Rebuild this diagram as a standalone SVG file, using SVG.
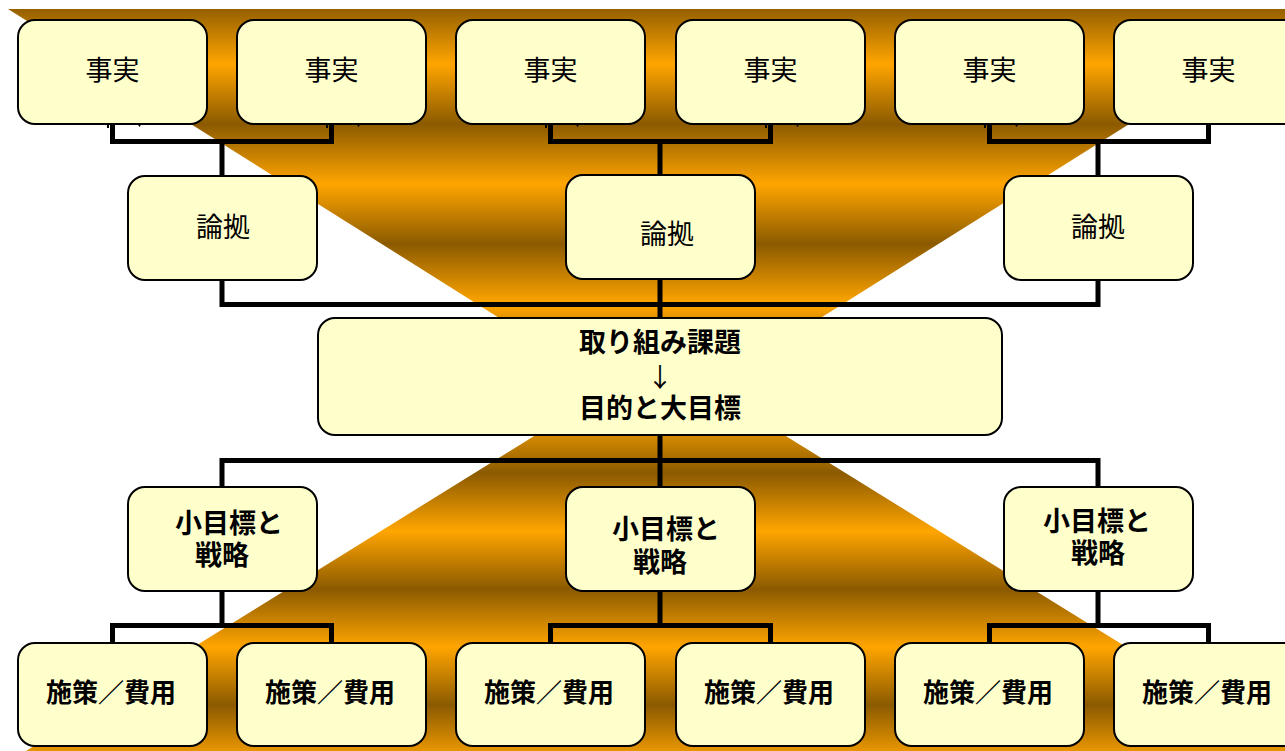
<svg xmlns="http://www.w3.org/2000/svg" width="1285" height="751" viewBox="0 0 1285 751">
  <defs>
    <linearGradient id="gTop" gradientUnits="userSpaceOnUse" x1="0" y1="4" x2="0" y2="64" spreadMethod="reflect">
      <stop offset="0" stop-color="#8B5A00"/>
      <stop offset="1" stop-color="#FFA500"/>
    </linearGradient>
    <linearGradient id="gBot" gradientUnits="userSpaceOnUse" x1="0" y1="473" x2="0" y2="531" spreadMethod="reflect">
      <stop offset="0" stop-color="#8B5A00"/>
      <stop offset="1" stop-color="#FFA500"/>
    </linearGradient>
  </defs>
  <style>
    .box { fill: #FFFFCC; stroke: #000; stroke-width: 2; }
    .t { font-family: "Noto Sans CJK JP", "Noto Sans CJK SC", sans-serif; fill: #000; text-anchor: middle; dominant-baseline: central; }
    .reg { font-size: 27px; font-weight: normal; }
    .bold { font-size: 27px; font-weight: bold; }
    .arrow { font-size: 26px; font-weight: normal; }
    .sm { font-size: 26px; font-weight: bold; }
    .conn { fill: none; stroke: #000; stroke-width: 5; stroke-linejoin: miter; stroke-linecap: butt; }
    .tick { fill: #000; }
  </style>

  <rect width="1285" height="751" fill="#FFFFFF"/>

  <g id="background">
    <polygon points="8,9 1312,9 660,419" fill="url(#gTop)"/>
    <polygon points="660,358 1294,751 26,751" fill="url(#gBot)"/>
  </g>

  <g id="connectors">
    <polyline class="conn" points="112.5,124 112.5,141.5 331.5,141.5 331.5,124"/>
    <line class="conn" x1="222" y1="141.5" x2="222" y2="176"/>
    <polyline class="conn" points="550.5,124 550.5,141.5 770.5,141.5 770.5,124"/>
    <line class="conn" x1="660" y1="141.5" x2="660" y2="175"/>
    <polyline class="conn" points="989.5,124 989.5,141.5 1208.5,141.5 1208.5,124"/>
    <line class="conn" x1="1098" y1="141.5" x2="1098" y2="176"/>
    <polyline class="conn" points="222,280 222,304.5 1098,304.5 1098,280"/>
    <line class="conn" x1="660" y1="279" x2="660" y2="318"/>
    <line class="conn" x1="660" y1="435" x2="660" y2="487"/>
    <polyline class="conn" points="222,487 222,460.5 1098,460.5 1098,487"/>
    <line class="conn" x1="222" y1="591" x2="222" y2="625.5"/>
    <polyline class="conn" points="112.5,643 112.5,625.5 331.5,625.5 331.5,643"/>
    <line class="conn" x1="660" y1="591" x2="660" y2="625.5"/>
    <polyline class="conn" points="550.5,643 550.5,625.5 770.5,625.5 770.5,643"/>
    <line class="conn" x1="1098" y1="591" x2="1098" y2="625.5"/>
    <polyline class="conn" points="989.5,643 989.5,625.5 1208.5,625.5 1208.5,643"/>
    <g class="tick">
      <rect x="107" y="124" width="2" height="4"/><path d="M137.5,124 h4 l-2,3 z"/>
      <rect x="326" y="124" width="2" height="4"/><path d="M356.5,124 h4 l-2,3 z"/>
      <rect x="545" y="124" width="2" height="4"/><path d="M575.5,124 h4 l-2,3 z"/>
      <rect x="765" y="124" width="2" height="4"/><path d="M795.5,124 h4 l-2,3 z"/>
      <rect x="984" y="124" width="2" height="4"/><path d="M1014.5,124 h4 l-2,3 z"/>
    </g>
  </g>

  <g id="fact1"><rect class="box" x="18" y="20" width="189" height="104" rx="17"/><text class="t reg" x="112.5" y="68">事実</text></g>
  <g id="fact2"><rect class="box" x="237" y="20" width="189" height="104" rx="17"/><text class="t reg" x="331.5" y="68">事実</text></g>
  <g id="fact3"><rect class="box" x="456" y="20" width="189" height="104" rx="17"/><text class="t reg" x="550.5" y="68">事実</text></g>
  <g id="fact4"><rect class="box" x="676" y="20" width="189" height="104" rx="17"/><text class="t reg" x="770.5" y="68">事実</text></g>
  <g id="fact5"><rect class="box" x="895" y="20" width="189" height="104" rx="17"/><text class="t reg" x="989.5" y="68">事実</text></g>
  <g id="fact6"><rect class="box" x="1114" y="20" width="189" height="104" rx="17"/><text class="t reg" x="1208.5" y="68">事実</text></g>

  <g id="ground1"><rect class="box" x="128" y="176" width="189" height="104" rx="17"/><text class="t reg" x="223" y="225">論拠</text></g>
  <g id="ground2"><rect class="box" x="566" y="175" width="189" height="104" rx="17"/><text class="t reg" x="667" y="232">論拠</text></g>
  <g id="ground3"><rect class="box" x="1004" y="176" width="189" height="104" rx="17"/><text class="t reg" x="1098" y="225">論拠</text></g>

  <g id="main">
    <rect class="box" x="318" y="318" width="684" height="117" rx="17"/>
    <text class="t bold" x="660" y="340">取り組み課題<tspan class="arrow" x="660" y="375">↓</tspan><tspan x="660" y="406">目的と大目標</tspan></text>
  </g>

  <g id="goal1"><rect class="box" x="128" y="487" width="189" height="104" rx="17"/><text class="t bold" x="229" y="521">小目標と<tspan x="222" y="553">戦略</tspan></text></g>
  <g id="goal2"><rect class="box" x="566" y="487" width="189" height="104" rx="17"/><text class="t bold" x="666" y="527">小目標と<tspan x="660" y="560">戦略</tspan></text></g>
  <g id="goal3"><rect class="box" x="1004" y="487" width="189" height="104" rx="17"/><text class="t bold" x="1097" y="519">小目標と<tspan x="1098" y="551">戦略</tspan></text></g>

  <g id="measure1"><rect class="box" x="18" y="643" width="189" height="103" rx="17"/><text class="t sm" x="111" y="690">施策／費用</text></g>
  <g id="measure2"><rect class="box" x="237" y="643" width="189" height="103" rx="17"/><text class="t sm" x="330" y="690">施策／費用</text></g>
  <g id="measure3"><rect class="box" x="456" y="643" width="189" height="103" rx="17"/><text class="t sm" x="549" y="690">施策／費用</text></g>
  <g id="measure4"><rect class="box" x="676" y="643" width="189" height="103" rx="17"/><text class="t sm" x="769" y="690">施策／費用</text></g>
  <g id="measure5"><rect class="box" x="895" y="643" width="189" height="103" rx="17"/><text class="t sm" x="988" y="690">施策／費用</text></g>
  <g id="measure6"><rect class="box" x="1114" y="643" width="189" height="103" rx="17"/><text class="t sm" x="1207" y="690">施策／費用</text></g>
</svg>
